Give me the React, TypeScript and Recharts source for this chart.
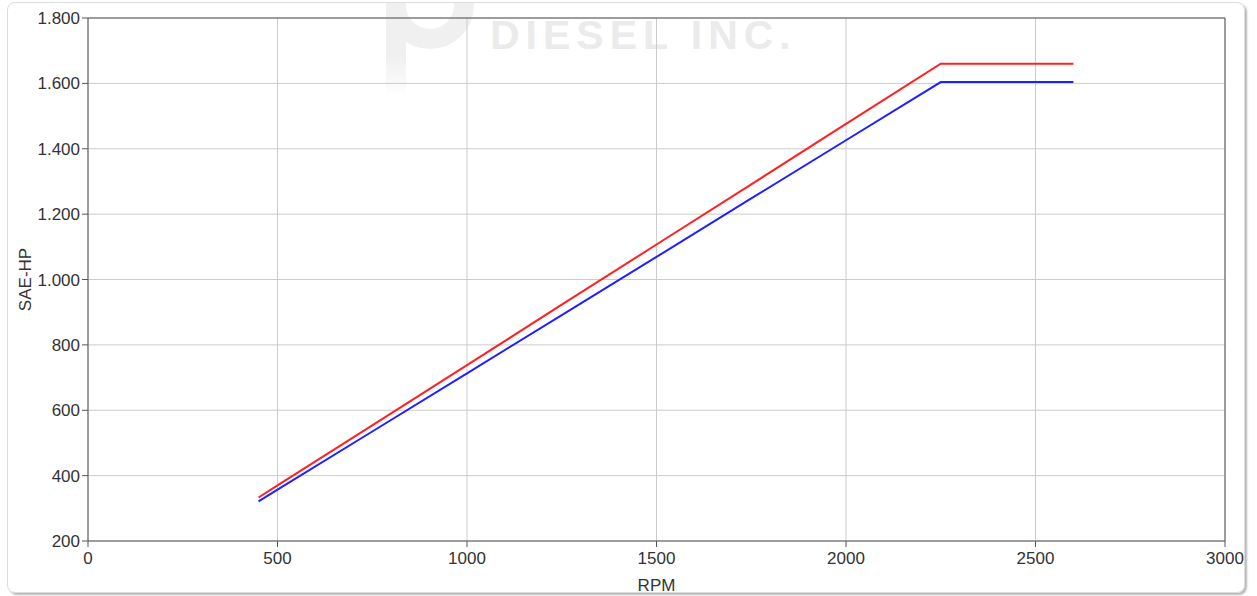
import React from 'react';
import {
  LineChart,
  Line,
  XAxis,
  YAxis,
  CartesianGrid,
  ReferenceLine,
  Label,
} from 'recharts';

// values
const rpm = [450, 500, 750, 1000, 1250, 1500, 1750, 2000, 2250, 2600];
const redHp = [333, 370, 554, 738, 923, 1107, 1291, 1476, 1660, 1660];
const blueHp = [321, 357, 535, 713, 891, 1069, 1248, 1426, 1604, 1604];
const xTicks = [0, 500, 1000, 1500, 2000, 2500, 3000];
const yTicks = [200, 400, 600, 800, 1000, 1200, 1400, 1600, 1800];

const data = rpm.map((r, i) => ({ rpm: r, red: redHp[i], blue: blueHp[i] }));

const font = '"Liberation Sans", Arial, sans-serif';

// 1800 -> "1.800"
const fmt = (v: number) =>
  v >= 1000 ? `${Math.floor(v / 1000)}.${String(v % 1000).padStart(3, '0')}` : String(v);

export default function App() {
  return (
    <div style={{ position: 'absolute', left: 0, top: 0, width: 1257, height: 596, background: '#fff', fontFamily: font }}>
      {/* card */}
      <div
        style={{
          position: 'absolute',
          left: 7,
          top: 2,
          width: 1236,
          height: 589,
          border: '1px solid #dcdcdc',
          borderRadius: 8,
          boxShadow: '2px 2px 2px #b8b8b8',
          overflow: 'hidden',
        }}
      >
        {/* faint logo watermark (coords relative to card) */}
        <div
          style={{
            position: 'absolute',
            left: 378,
            top: -42,
            width: 48,
            height: 48,
            border: '20px solid #f0f0f0',
            borderRadius: '50%',
          }}
        />
        <div
          style={{
            position: 'absolute',
            left: 378,
            top: -2,
            width: 20,
            height: 95,
            background: 'linear-gradient(#f0f0f0, #f0f0f0 60%, rgba(240,240,240,0))',
          }}
        />
        <div
          style={{
            position: 'absolute',
            left: 482,
            top: 12,
            fontSize: 41,
            fontWeight: 'bold',
            color: '#ebebeb',
            letterSpacing: 6,
            lineHeight: 1,
            whiteSpace: 'nowrap',
          }}
        >
          DIESEL INC.
        </div>
      </div>
      <div style={{ position: 'absolute', left: 0, top: 0 }}>
        <LineChart width={1257} height={596} data={data} margin={{ top: 18, right: 32, left: 0, bottom: 0 }}>
          <CartesianGrid stroke="#cccccc" />
          <XAxis
            type="number"
            dataKey="rpm"
            domain={[0, 3000]}
            ticks={xTicks}
            height={55}
            stroke="#555"
            tickSize={6}
            tickMargin={5}
            tick={{ fontSize: 17, fill: '#333', fontFamily: font }}
          >
            <Label value="RPM" position="insideBottom" offset={5} style={{ fontSize: 17, fill: '#333', fontFamily: font }} />
          </XAxis>
          <YAxis
            type="number"
            domain={[200, 1800]}
            ticks={yTicks}
            width={88}
            stroke="#555"
            tickSize={6}
            tickMargin={2}
            tickFormatter={fmt}
            tick={{ fontSize: 17, fill: '#333', fontFamily: font }}
          >
            <Label value="SAE-HP" angle={-90} position="center" dx={-19} style={{ fontSize: 17, fill: '#333', fontFamily: font, textAnchor: 'middle' }} />
          </YAxis>
          <ReferenceLine y={1800} stroke="#555" />
          <ReferenceLine x={3000} stroke="#555" />
          <Line type="linear" dataKey="red" stroke="#ff2020" strokeWidth={2} dot={false} isAnimationActive={false} />
          <Line type="linear" dataKey="blue" stroke="#2020ff" strokeWidth={2} dot={false} isAnimationActive={false} />
        </LineChart>
      </div>
    </div>
  );
}
